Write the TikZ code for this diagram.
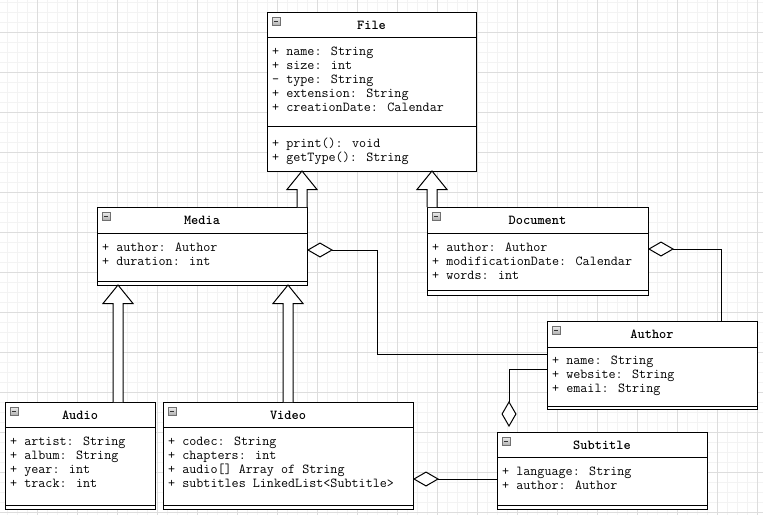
\documentclass[tikz,border=0pt]{standalone}
\usepackage{fontspec}
\usetikzlibrary{calc,arrows.meta}

\definecolor{gridmajor}{HTML}{DDDDDD}
\definecolor{gridminor}{HTML}{F3F3F3}
\definecolor{iconedge}{HTML}{707070}
\definecolor{icontop}{HTML}{EEEEEE}
\definecolor{iconbottom}{HTML}{B0B0B0}

\tikzset{
  umlbox/.style={draw=black, line width=1pt, fill=white, anchor=north west,
    inner sep=0pt, outer sep=0pt},
  umlrule/.style={draw=black, line width=1pt},
  umltitle/.style={font=\ttfamily\bfseries\fontsize{13.7}{14}\selectfont,
    inner sep=0pt, anchor=base},
  umlmember/.style={font=\ttfamily\fontsize{13.7}{14}\selectfont,
    inner sep=0pt, anchor=base west},
  foldicon/.style={draw=iconedge, line width=0.6pt, top color=icontop,
    bottom color=iconbottom, minimum size=8pt, inner sep=0pt, outer sep=0pt},
  genline/.style={draw=black, line width=1pt, fill=white, line join=miter},
  aggr/.style={draw=black, line width=1pt,
    -{Diamond[length=26pt, width=15pt, fill=white, line width=1pt]}},
  gridminorline/.style={draw=gridminor, line width=0.8pt},
  gridmajorline/.style={draw=gridmajor, line width=1pt}
}

% class frame: name, left, top, width, height, title, header height
\newcommand\umlframe[7]{%
  \node[umlbox, minimum width=#4, minimum height=#5] (#1) at (#2,#3) {};
  \draw[umlrule] ($(#1.north west)+(0,#7)$) -- ($(#1.north east)+(0,#7)$);
  \node[foldicon] (#1-fold) at ($(#1.north west)+(9,9)$) {};
  \draw[line width=0.9pt, black!80] ($(#1-fold.center)+(-2.2,0)$) -- ($(#1-fold.center)+(2.2,0)$);
  \node[umltitle] (#1-title) at ($(#1.north)+(0,17.5)$) {#6};
}
% horizontal rule inside a class at a given offset from its top
\newcommand\umlrule[2]{%
  \draw[umlrule] ($(#1.north west)+(0,#2)$) -- ($(#1.north east)+(0,#2)$);
}
% member lines: class, first baseline offset, tag, list
\newcommand\umlmembers[4]{%
  \foreach \txt [count=\i] in {#4} {
    \node[umlmember] (#1-#3\i) at ($(#1.north west)+(5,{#2+14*\i-14})$) {\txt};
  }
}
% inheritance arrow: child anchor coordinate, parent node, arrow name
\newcommand\generalize[3]{%
  \coordinate (#3-tip) at (#1 |- #2.south);
  \draw[genline] ($(#1)+(-5,0)$) -- ($(#3-tip)+(-5,18.5)$) -- ($(#3-tip)+(-15,18.5)$)
    -- (#3-tip) -- ($(#3-tip)+(15,18.5)$) -- ($(#3-tip)+(5,18.5)$) -- ($(#1)+(5,0)$);
}

\begin{document}
\begin{tikzpicture}[x=1pt, y=-1pt]
  \useasboundingbox (0,0) rectangle (763,515);
  \fill[white] (0,0) rectangle (763,515);

  % background grid
  \foreach \gx in {7,17,...,757} \draw[gridminorline] (\gx,0) -- (\gx,515);
  \foreach \gy in {2,12,...,512} \draw[gridminorline] (0,\gy) -- (763,\gy);
  \foreach \gx in {37,77,...,757} \draw[gridmajorline] (\gx,0) -- (\gx,515);
  \foreach \gy in {32,72,...,512} \draw[gridmajorline] (0,\gy) -- (763,\gy);

  % class outlines
  \umlframe{file}{267}{12}{209}{159}{File}{25}
  \umlframe{media}{97}{207}{210}{78}{Media}{26}
  \umlframe{document}{427}{207}{221}{88}{Document}{26}
  \umlframe{author}{547}{321}{210}{88}{Author}{26}
  \umlframe{subtitle}{497}{432}{210}{77}{Subtitle}{25}
  \umlframe{audio}{5}{402}{150}{107}{Audio}{25}
  \umlframe{video}{163}{402}{250}{107}{Video}{25}

  % File
  \umlmembers{file}{43}{a}{+ name: String, + size: int, - type: String,
    + extension: String, + creationDate: Calendar}
  \umlrule{file}{114}
  \umlmembers{file}{135}{o}{+ print(): void, + getType(): String}

  % Media
  \umlmembers{media}{44}{a}{+ author: Author, + duration: int}
  \umlrule{media}{74}

  % Document
  \umlmembers{document}{44}{a}{+ author: Author, + modificationDate: Calendar, + words: int}
  \umlrule{document}{83}

  % Author
  \umlmembers{author}{43.5}{a}{+ name: String, + website: String, + email: String}
  \umlrule{author}{85}

  % Subtitle
  \umlmembers{subtitle}{43}{a}{+ language: String, + author: Author}
  \umlrule{subtitle}{73}

  % Audio
  \umlmembers{audio}{43}{a}{+ artist: String, + album: String, + year: int, + track: int}
  \umlrule{audio}{103.5}

  % Video
  \umlmembers{video}{43}{a}{+ codec: String, + chapters: int,
    + audio[] Array of String, + subtitles LinkedList<Subtitle>}
  \umlrule{video}{103.5}

  % inheritance
  \coordinate (mediaup) at ($(media.north west)+(205,0)$);
  \coordinate (docup) at ($(document.north west)+(5,0)$);
  \coordinate (audioup) at ($(audio.north west)+(113,0)$);
  \coordinate (videoup) at ($(video.north west)+(125,0)$);
  \generalize{mediaup}{file}{gm}
  \generalize{docup}{file}{gd}
  \generalize{audioup}{media}{ga}
  \generalize{videoup}{media}{gv}

  % aggregations
  \draw[aggr] ($(author.north west)+(0,33)$) -- ++(-170,0) |- ($(media.north east)+(0,43)$);
  \draw[aggr] ($(author.north west)+(174,0)$) |- ($(document.north east)+(0,42)$);
  \draw[aggr] ($(author.north west)+(0,48)$) -| ($(subtitle.north west)+(12,-5)$);
  \draw[aggr] ($(subtitle.north west)+(0,47)$) -- ($(video.north east)+(0,77)$);
\end{tikzpicture}
\end{document}
